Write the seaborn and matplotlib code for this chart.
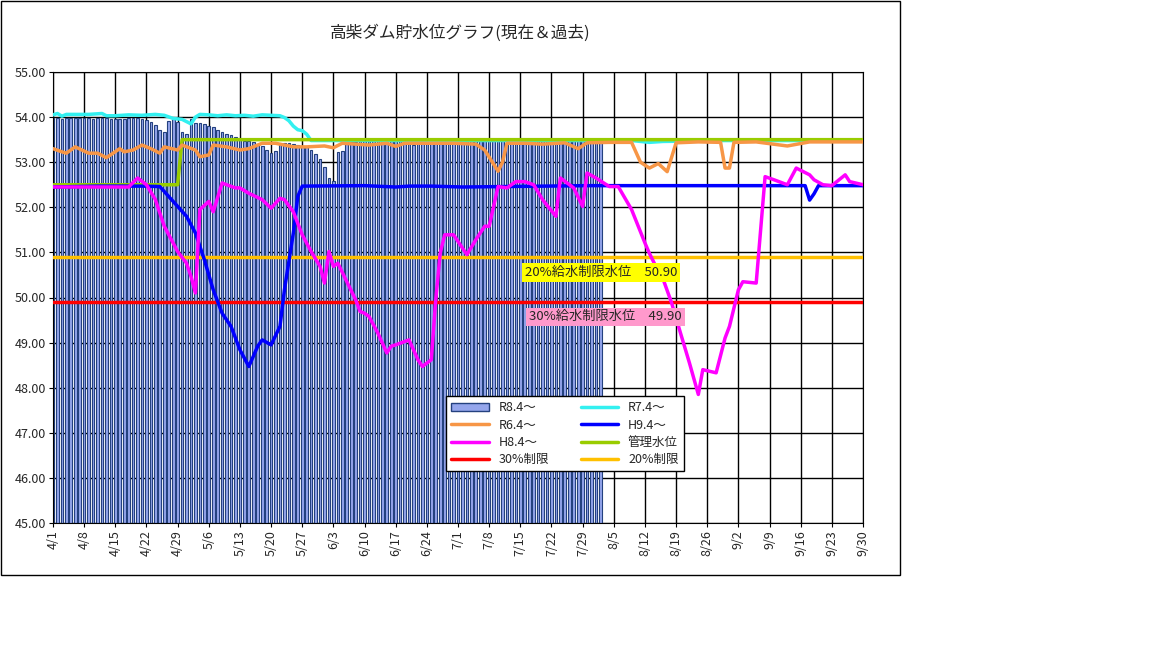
import matplotlib
matplotlib.use("Agg")
import matplotlib.pyplot as plt
import seaborn as sns
import numpy as np
import pandas as pd
from matplotlib.patches import Rectangle, Patch
from matplotlib.lines import Line2D

sns.set_style("white")
plt.rcParams['font.family'] = ['Noto Sans CJK JP', 'DejaVu Sans']

title = "高柴ダム貯水位グラフ(現在＆過去)"
tick_days = [0, 7, 14, 21, 28, 35, 42, 49, 56, 63, 70, 77, 84, 91, 98, 105, 112, 119,
             126, 133, 140, 147, 154, 161, 168, 175, 182]
tick_labels = ["4/1", "4/8", "4/15", "4/22", "4/29", "5/6", "5/13", "5/20", "5/27", "6/3",
               "6/10", "6/17", "6/24", "7/1", "7/8", "7/15", "7/22", "7/29", "8/5", "8/12",
               "8/19", "8/26", "9/2", "9/9", "9/16", "9/23", "9/30"]

# R8.4~ daily (bars), day 0 = 4/1
r8_values = [53.98, 53.97, 53.95, 53.97, 53.97, 53.98, 53.98, 53.97, 53.97, 53.96,
             53.97, 53.97, 53.97, 53.95, 53.95, 53.96, 53.96, 53.97, 53.97, 53.97,
             53.96, 53.94, 53.90, 53.82, 53.72, 53.68, 53.92, 53.96, 53.90, 53.66,
             53.62, 53.95, 53.88, 53.87, 53.84, 53.80, 53.77, 53.72, 53.68, 53.63,
             53.60, 53.56, 53.50, 53.46, 53.46, 53.44, 53.40, 53.35, 53.26, 53.21,
             53.24, 53.40, 53.43, 53.42, 53.40, 53.38, 53.36, 53.33, 53.27, 53.18,
             53.06, 52.90, 52.65, 52.58, 53.22, 53.24, 53.40, 53.44, 53.45, 53.46,
             53.47, 53.46, 53.47, 53.47, 53.46, 53.47, 53.47, 53.46, 53.47, 53.45,
             53.40, 53.38, 53.46, 53.47, 53.47, 53.46, 53.42, 53.45, 53.47, 53.47,
             53.46, 53.47, 53.47, 53.46, 53.47, 53.47, 53.47, 53.46, 53.47, 53.47,
             53.46, 53.47, 53.47, 53.47, 53.46, 53.47, 53.47, 53.46, 53.47, 53.47,
             53.46, 53.47, 53.47, 53.46, 53.47, 53.47, 53.46, 53.47, 53.47, 53.46,
             53.47, 53.47, 53.46, 53.47]

r7_days = [0, 1, 2, 3, 5, 8, 11, 12, 14, 17, 20, 23, 25, 27, 29, 31, 32, 33, 35, 37, 39,
           41, 43, 45, 47, 49, 51, 52, 53, 54, 55, 56, 57, 58, 70, 90, 110, 130, 134, 137, 150, 182]
r7_values = [54.05, 54.08, 54.02, 54.06, 54.06, 54.06, 54.08, 54.03, 54.03, 54.05, 54.04,
             54.06, 54.04, 53.97, 53.95, 53.85, 54.00, 54.06, 54.05, 54.03, 54.05, 54.03,
             54.04, 54.02, 54.05, 54.04, 54.03, 53.99, 53.92, 53.80, 53.72, 53.70, 53.62,
             53.48, 53.48, 53.48, 53.48, 53.48, 53.44, 53.46, 53.48, 53.48]

r6_days = [0, 2, 3, 5, 8, 10, 12, 15, 16, 18, 20, 22, 24, 25, 28, 29, 32, 33, 35, 36, 39,
           42, 44, 47, 50, 54, 57, 61, 63, 65, 71, 75, 77, 79, 85, 90, 95, 97, 100, 101,
           102, 106, 110, 115, 118, 120, 125, 130, 132, 134, 136, 138, 140, 145, 150, 151,
           152, 153, 158, 165, 170, 176, 182]
r6_values = [53.30, 53.23, 53.20, 53.34, 53.20, 53.20, 53.10, 53.30, 53.23, 53.27, 53.38,
             53.30, 53.20, 53.34, 53.27, 53.38, 53.27, 53.12, 53.16, 53.38, 53.34, 53.27,
             53.30, 53.42, 53.42, 53.34, 53.34, 53.36, 53.32, 53.42, 53.38, 53.42, 53.35,
             53.42, 53.42, 53.42, 53.40, 53.27, 52.80, 53.00, 53.42, 53.42, 53.40, 53.43,
             53.30, 53.43, 53.44, 53.44, 53.00, 52.87, 52.97, 52.79, 53.43, 53.45, 53.44,
             52.87, 52.87, 53.44, 53.45, 53.36, 53.45, 53.45, 53.45]

h9_days = [0, 10, 20, 24, 26, 28, 30, 32, 34, 36, 38, 40, 42, 44, 46, 47, 49, 51, 52, 54,
           55, 56, 70, 77, 80, 85, 92, 120, 169, 170, 171, 172, 182]
h9_values = [52.45, 52.47, 52.47, 52.46, 52.24, 52.02, 51.80, 51.43, 50.84, 50.17, 49.65,
             49.36, 48.84, 48.47, 48.92, 49.06, 48.95, 49.36, 50.17, 51.43, 52.24, 52.47,
             52.48, 52.45, 52.47, 52.47, 52.45, 52.48, 52.48, 52.16, 52.30, 52.48, 52.48]

h8_days = [0, 10, 17, 19, 21, 23, 25, 28, 30, 31, 32, 33, 35, 36, 38, 39, 41, 42, 44, 47,
           49, 51, 52, 54, 56, 58, 60, 61, 62, 63, 64, 68, 69, 70, 71, 73, 75, 76, 77, 80,
           82, 83, 85, 86, 87, 88, 90, 93, 95, 97, 98, 100, 102, 104, 106, 108, 110, 113,
           114, 117, 119, 120, 122, 125, 127, 130, 133, 134, 136, 137, 139, 141, 143, 145,
           146, 149, 151, 152, 154, 155, 158, 160, 162, 165, 167, 170, 171, 173, 175, 178,
           179, 182]
h8_values = [52.45, 52.45, 52.45, 52.65, 52.50, 52.17, 51.58, 51.02, 50.76, 50.47, 50.10,
             51.95, 52.13, 51.90, 52.54, 52.50, 52.43, 52.43, 52.31, 52.17, 51.98, 52.20,
             52.17, 51.90, 51.39, 51.02, 50.69, 50.32, 51.02, 50.69, 50.76, 49.95, 49.69,
             49.65, 49.58, 49.21, 48.77, 48.92, 48.95, 49.06, 48.62, 48.47, 48.62, 49.95,
             50.98, 51.39, 51.39, 50.95, 51.28, 51.58, 51.58, 52.46, 52.43, 52.57, 52.57,
             52.50, 52.17, 51.80, 52.65, 52.43, 52.02, 52.76, 52.65, 52.46, 52.46, 51.95,
             51.21, 50.98, 50.58, 50.43, 49.88, 49.21, 48.55, 47.85, 48.40, 48.33, 49.10,
             49.36, 50.17, 50.35, 50.32, 52.68, 52.61, 52.50, 52.87, 52.72, 52.61, 52.50,
             52.48, 52.72, 52.57, 52.50]

kanri_days = [0, 28, 29, 182]
kanri_values = [52.50, 52.50, 53.50, 53.50]

limit30 = 49.90
limit20 = 50.90

fig = plt.figure(figsize=(11.52, 6.48), dpi=100)
fig.patch.set_facecolor("white")
fig.add_artist(Rectangle((0.5 / 1152, 1 - 575 / 648), 899 / 1152, 574 / 648,
                         transform=fig.transFigure, fill=False, edgecolor="black", lw=1))
ax = fig.add_axes([53 / 1152, (648 - 523) / 648, 810 / 1152, 451 / 648])

r8_days = list(range(len(r8_values)))
ax.bar(r8_days, np.array(r8_values) - 45, bottom=45, width=0.6,
       color="#95a6ec", edgecolor="#24417f", linewidth=0.8, zorder=2)

ax.axhline(limit30, color="#ff0000", lw=2.5, zorder=3)
ax.axhline(limit20, color="#ffc000", lw=2.5, zorder=3)

def draw(days, vals, color):
    sns.lineplot(x=days, y=vals, ax=ax, color=color, lw=2.5, zorder=4, estimator=None, sort=False)

draw(r7_days, r7_values, "#33f0f0")
draw(kanri_days, kanri_values, "#99cc00")
draw(r6_days, r6_values, "#f79646")
draw(h9_days, h9_values, "#0000ff")
draw(h8_days, h8_values, "#ff00ff")

ax.set_xlim(0, 182)
ax.set_ylim(45, 55)
ax.set_yticks(np.arange(45, 55.01, 1))
ax.set_yticklabels([f"{v:.2f}" for v in np.arange(45, 55.01, 1)], fontsize=9)
ax.set_xticks(tick_days)
ax.set_xticklabels(tick_labels, rotation=90, fontsize=9)
ax.grid(True, color="black", lw=1, zorder=1)
ax.set_axisbelow(True)
for s in ax.spines.values():
    s.set_color("black")
ax.tick_params(axis="both", length=3, color="black", pad=2, direction="out", bottom=True, left=True)

fig.text(460 / 1152, 1 - 33 / 648, title, ha="center", va="center", fontsize=12)

ax.text(106, limit20 - 0.35, "20%給水制限水位　50.90", fontsize=9.5, ha="left", va="center",
        bbox=dict(facecolor="#ffff00", edgecolor="none", pad=2), zorder=6)
ax.text(107, limit30 - 0.33, "30%給水制限水位　49.90", fontsize=9.5, ha="left", va="center",
        bbox=dict(facecolor="#ff99cc", edgecolor="none", pad=2), zorder=6)

h = [Patch(facecolor="#95a6ec", edgecolor="#24417f", label="R8.4〜"),
     Line2D([], [], color="#f79646", lw=2.5, label="R6.4〜"),
     Line2D([], [], color="#ff00ff", lw=2.5, label="H8.4〜"),
     Line2D([], [], color="#ff0000", lw=2.5, label="30%制限"),
     Line2D([], [], color="#33f0f0", lw=2.5, label="R7.4〜"),
     Line2D([], [], color="#0000ff", lw=2.5, label="H9.4〜"),
     Line2D([], [], color="#99cc00", lw=2.5, label="管理水位"),
     Line2D([], [], color="#ffc000", lw=2.5, label="20%制限")]
leg = ax.legend(handles=h, ncol=2, loc="upper left", bbox_to_anchor=(387 / 810, 1 - 318 / 451),
                fontsize=9, frameon=True, fancybox=False, framealpha=1, edgecolor="black",
                handlelength=3, columnspacing=2.5, borderpad=0.4, labelspacing=0.35)
leg.set_zorder(7)

fig.savefig("out.png", dpi=100)
